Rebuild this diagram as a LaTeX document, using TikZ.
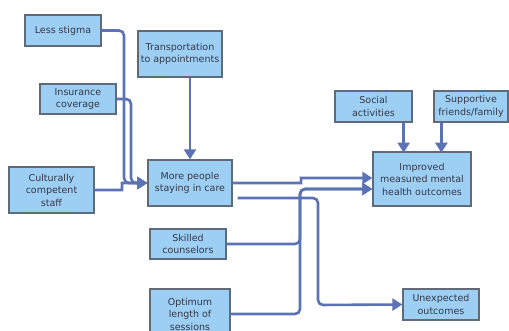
\documentclass[tikz,border=0pt]{standalone}
\usepackage{fontspec}
\setmainfont{DejaVu Sans}
\usepackage{xcolor}
\usetikzlibrary{positioning,arrows.meta}
\definecolor{boxfill}{HTML}{9DCFF5}
\definecolor{boxline}{HTML}{5F6B78}
\definecolor{flowline}{HTML}{5B73B5}
\definecolor{ink}{HTML}{343846}
\tikzset{
  factor/.style={rectangle, draw=boxline, fill=boxfill, line width=1.3pt,
                 font=\fontsize{9.5}{12.5}\selectfont, text=ink, inner sep=0pt, align=center},
  flow/.style={-{Triangle[length=10pt, width=12pt]}, line width=2.6pt, draw=flowline,
               rounded corners=5pt},
}

\begin{document}
\begin{tikzpicture}[x=1pt, y=-1pt]
    \useasboundingbox (0,0) rectangle (509,331);
    % inputs on the left
    \node[factor, minimum width=76pt, minimum height=31pt] (stigma) at (63,30.5) {Less stigma};
    \node[factor, minimum width=76pt, minimum height=30pt] (insur) at (78,99) {Insurance\\coverage};
    \node[factor, minimum width=85pt, minimum height=46pt] (staff) at (51.5,190) {Culturally\\competent\\staff};
    \node[factor, minimum width=84pt, minimum height=46pt] (transp) at (180,54) {Transportation\\to appointments};
    % middle column
    \node[factor, minimum width=84pt, minimum height=46pt] (care) at (190,183) {More people\\staying in care};
    \node[factor, minimum width=76pt, minimum height=30pt] (counsel) at (188,244) {Skilled\\counselors};
    \node[factor, minimum width=80pt, minimum height=50pt] (length) at (190,314) {Optimum\\length of\\sessions};
    % outcomes
    \node[factor, minimum width=77pt, minimum height=31pt] (social) at (373.5,106.5) {Social\\activities};
    \node[factor, minimum width=74pt, minimum height=31pt] (friends) at (471,106.5) {Supportive\\friends/family};
    \node[factor, minimum width=98pt, minimum height=54pt] (health) at (422,179) {Improved\\measured mental\\health outcomes};
    \node[factor, minimum width=76pt, minimum height=31pt] (unexp) at (441,304.5) {Unexpected\\outcomes};

    \coordinate (colA) at (124,183);
    \coordinate (colB) at (131,183);
    \coordinate (colC) at (300,189);
    \coordinate (colE) at (318,305);

    \draw[flow] (stigma.east) -| (colA) -- (care.west);
    \draw[flow] (insur.east) -| (colB) -- (care.west);
    \draw[flow] (staff.east) -- (117,190) to[out=0,in=180] (127,183) -- (care.west);
    \draw[flow] (care.north |- transp.south) -- (care.north);

    \draw[flow] (care.east) -- (296,183) to[out=0,in=180] (306,178) -- ([yshift=1pt]health.west);
    \draw[flow] (counsel.east) -| (colC) -- ([yshift=-10pt]health.west);
    \draw[flow] (length.east) -| (colC) -- ([yshift=-10pt]health.west);
    \draw[flow] ([shift={(5,15)}]care.east) -| (colE) -- (unexp.west);

    \draw[flow] ([xshift=-9pt]social.south east) -- ++(0,30);
    \draw[flow] ([xshift=8pt]friends.south west) -- ++(0,30);
\end{tikzpicture}
\end{document}
